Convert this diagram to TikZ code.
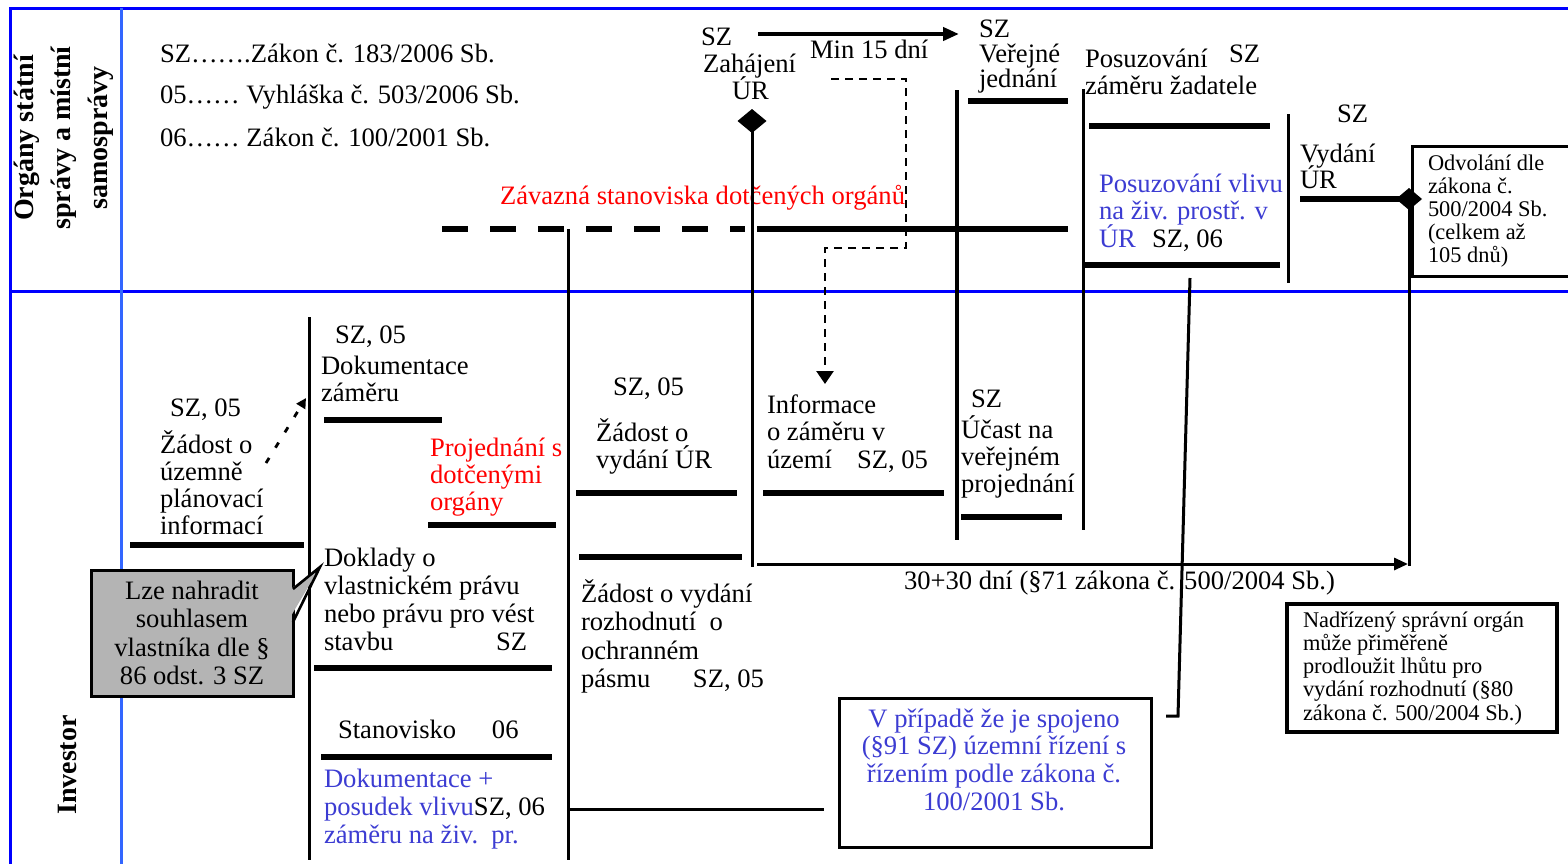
\documentclass[tikz,border=0pt]{standalone}
\usepackage{fontspec}
\setmainfont{Liberation Serif}
\usetikzlibrary{arrows.meta,shapes.geometric}
\definecolor{frameblue}{RGB}{0,0,255}
\definecolor{innerblue}{RGB}{51,102,255}
\definecolor{tblue}{RGB}{60,60,210}
\definecolor{boxgray}{RGB}{180,180,180}
\newcommand\firstln{\rule{0pt}{12pt}}
\newcommand\firstsm{\rule{0pt}{10pt}}
\newcommand\nolsk{\lineskiplimit-100pt\relax}
\begin{document}
\begin{tikzpicture}[x=0.5pt,y=-0.5pt,
  fr/.style={line width=1.5pt, draw=frameblue},
  vln/.style={line width=1.5pt},
  barln/.style={line width=2.6pt},
  dashln/.style={line width=2.6pt, dash pattern=on 13pt off 11pt},
  dotln/.style={line width=1.3pt, dash pattern=on 4pt off 3pt},
  txt/.style={inner sep=0pt, outer sep=0pt, align=left, anchor=north west, yshift=12pt,
    font={\fontsize{13.3pt}{#1}\selectfont\nolsk}},
  txt/.default=13.6pt,
  stxt/.style={inner sep=0pt, outer sep=0pt, align=left, anchor=north west, yshift=10pt,
    font={\fontsize{11.2pt}{#1}\selectfont\nolsk}},
  stxt/.default=11.5pt,
  hdr/.style={inner sep=0pt, outer sep=0pt, align=center,
    font={\fontsize{14pt}{18.5pt}\selectfont\bfseries}},
  dmd/.style={diamond, fill=black, inner sep=0pt, outer sep=0pt},
  boxnode/.style={draw, inner sep=0pt, outer sep=0pt, anchor=north west}
]
\useasboundingbox (0,0) rectangle (1568,863);
\clip (0,0) rectangle (1568,863);

% frame
\draw[fr] (1580,8) -- (10,8) -- (10,870);
\draw[fr] (10,291) -- (1580,291);
\draw[fr, draw=innerblue] (121,8) -- (121,870);

% lane headers
\node[hdr, rotate=90] (hdr) at (64,138) {Orgány státní\\správy a místní\\samosprávy};
\node[hdr, rotate=90] (inv) at (67,765) {Investor};

% legend
\node[txt] (leg1) at (160,62) {\firstln SZ…….Zákon č. 183/2006 Sb.};
\node[txt] (leg2) at (160,103) {\firstln 05…… Vyhláška č. 503/2006 Sb.};
\node[txt] (leg3) at (160,146) {\firstln 06…… Zákon č. 100/2001 Sb.};

% upper lane structure
\draw[dashln] (442,229) -- (745,229);
\draw[barln] (757,229) -- (1068,229);
\draw[vln] (568,229) -- (568,860);
\draw[vln, line width=2.2pt] (957,90) -- (957,540);
\draw[barln] (968,101) -- (1068,101);
\draw[vln] (1083,89) -- (1083,530);
\draw[barln] (1089,126) -- (1270,126);
\draw[barln] (1083,265) -- (1280,265);
\draw[vln] (1288,114) -- (1288,283);

\node[txt, text=red] (zav) at (500,204) {\firstln Závazná stanoviska dotčených orgánů};
\node[txt] (zah) at (701,45) {\firstln SZ\\\hspace*{1pt}Zahájení\\\hspace*{15.5pt}ÚR};
\node[txt] (min15) at (810,58) {\firstln Min 15 dní};
\node[txt=12.7pt] (verj) at (979,37) {\firstln SZ\\Veřejné\\jednání};
\node[txt] (posz) at (1085,67) {\firstln \makebox[72pt][l]{Posuzování}\raisebox{2.5pt}{SZ}\\záměru žadatele};
\node[txt] (sz3) at (1337,122) {\firstln SZ};
\node[txt=13pt] (vyd) at (1300,162) {\firstln Vydání\\ÚR};
\node[txt=13.75pt, text=tblue] (vliv) at (1099,192) {\firstln Posuzování vlivu\\na živ. prostř. v\\\makebox[26.5pt][l]{ÚR}\textcolor{black}{SZ, 06}};

% diamonds and connectors
\node[dmd, minimum width=14.5pt, minimum height=12pt] (dia1) at (752,121) {};
\node[dmd, minimum width=13pt, minimum height=11pt] (dia2) at (1409,199) {};
\coordinate (v752e) at (752,567);
\draw[vln] (dia1.center) -- (v752e);
\coordinate (arrS) at (757,564);
\coordinate (arrE) at (1408,564);
\draw[vln, -{Triangle[length=7pt,width=6pt]}] (arrS) -- (arrE);
\coordinate (v1409e) at (1409,566);
\draw[vln] (dia2.center) -- (v1409e);
\coordinate (vydL) at (1300,199);
\draw[barln] (vydL) -- (dia2.center);

\coordinate (tS) at (758,34);
\coordinate (tE) at (959,34);
\draw[line width=2pt, -{Triangle[length=8pt,width=6.5pt]}] (tS) -- (tE);

\coordinate (d1) at (831,79);
\coordinate (d2) at (906,79);
\coordinate (d3) at (906,248);
\coordinate (d4) at (825,248);
\coordinate (d5) at (825,384);
\draw[dotln, -{Triangle[length=6.5pt,width=8.5pt]}] (d1) -- (d2) -- (d3) -- (d4) -- (d5);

% Odvolani box
\node[boxnode, line width=1.5pt, minimum width=89pt, minimum height=65pt] (obox) at (1412,146) {};
\node[stxt] (odv) at (1428,170) {\firstsm Odvolání dle\\zákona č.\\500/2004 Sb.\\(celkem až\\105 dnů)};

% lower lane
\draw[vln] (309,317) -- (309,860);
\node[txt] (sz05a) at (170,416) {\firstln SZ, 05};
\node[txt=13.65pt] (upi) at (160,453) {\firstln Žádost o\\územně\\plánovací\\informací};
\draw[barln] (130,545) -- (304,545);
\coordinate (e1) at (266,463);
\coordinate (e2) at (306,398);
\draw[line width=1.4pt, dash pattern=on 3pt off 6pt, -{Triangle[length=5pt,width=5pt]}] (e1) -- (e2);

\node[txt] (sz05b) at (335,343) {\firstln SZ, 05};
\node[txt] (dok) at (321,374) {\firstln Dokumentace\\záměru};
\draw[barln] (324,420) -- (442,420);
\node[txt, text=red] (proj) at (430,456) {\firstln Projednání s\\dotčenými\\orgány};
\draw[barln] (428,525) -- (556,525);
\node[txt=14pt] (dokl) at (324,566) {\firstln Doklady o\\vlastnickém právu\\nebo právu pro vést\\\makebox[86pt][l]{stavbu}SZ};
\draw[barln] (314,668) -- (552,668);
\node[txt] (stan) at (338,738) {\firstln \makebox[77pt][l]{Stanovisko}06};
\draw[barln] (321,757) -- (552,757);
\node[txt=14pt, text=tblue] (dokp) at (324,787) {\firstln Dokumentace +\\posudek vlivu\textcolor{black}{SZ, 06}\\záměru na živ.\ \ pr.};

% gray callout
\node[draw, line width=1.5pt, fill=boxgray, align=center, inner sep=0pt, outer sep=0pt,
  minimum width=101pt, minimum height=63pt,
  font={\fontsize{13.3pt}{14.15pt}\selectfont\nolsk}] (lze) at (192,633)
  {\firstln Lze nahradit\\souhlasem\\vlastníka dle §\\86 odst. 3 SZ\rule[-3pt]{0pt}{0pt}};
\coordinate (fa) at (288,591);
\coordinate (fb) at (288,621);
\coordinate (pa) at (293,589);
\coordinate (pb) at (293,622);
\coordinate (ptip) at (320,567);
\fill[boxgray] (fa) -- (ptip) -- (fb) -- cycle;
\draw[line width=1.3pt] (pa) -- (ptip) -- (pb);

\node[txt] (sz05c) at (613,395) {\firstln SZ, 05};
\node[txt] (zur) at (596,441) {\firstln Žádost o\\vydání ÚR};
\draw[barln] (576,493) -- (737,493);
\draw[barln] (579,557) -- (742,557);
\node[txt=14.3pt] (zop) at (581,602) {\firstln Žádost o vydání\\rozhodnutí\ \ o\\ochranném\\\makebox[56pt][l]{pásmu}SZ, 05};

\node[txt=13.75pt] (info) at (767,413) {\firstln Informace\\o záměru v\\\makebox[45pt][l]{území}SZ, 05};
\draw[barln] (763,493) -- (944,493);
\node[txt] (sz4) at (971,407) {\firstln SZ};
\node[txt] (ucast) at (961,438) {\firstln Účast na\\veřejném\\projednání};
\draw[barln] (961,517) -- (1062,517);

\node[txt] (lhuta) at (904,589) {\firstln 30+30 dní (§71 zákona č. 500/2004 Sb.)};

% line from EIA assessment down
\coordinate (f1) at (1190,278);
\coordinate (f2) at (1178,716);
\coordinate (f3) at (1166,716);
\draw[vln] (f1) -- (f2) -- (f3);

% combined procedure box
\node[boxnode, line width=1.5pt, minimum width=156pt, minimum height=74.5pt] (vbox) at (839,698) {};
\node[txt=13.85pt, anchor=north, align=center, text=tblue] (vtext) at (994,727)
  {\firstln V případě že je spojeno\\(§91 SZ) územní řízení s\\řízením podle zákona č.\\100/2001 Sb.};
\coordinate (g1) at (568,809);
\coordinate (g2) at (824,809);
\draw[vln] (g1) -- (g2);

% superior authority box
\node[boxnode, line width=2pt, minimum width=135pt, minimum height=64pt] (nbox) at (1287,604) {};
\node[stxt=11.65pt] (nadr) at (1303,627) {\firstsm Nadřízený správní orgán\\může přiměřeně\\prodloužit lhůtu pro\\vydání rozhodnutí (§80\\zákona č. 500/2004 Sb.)};
\end{tikzpicture}
\end{document}
